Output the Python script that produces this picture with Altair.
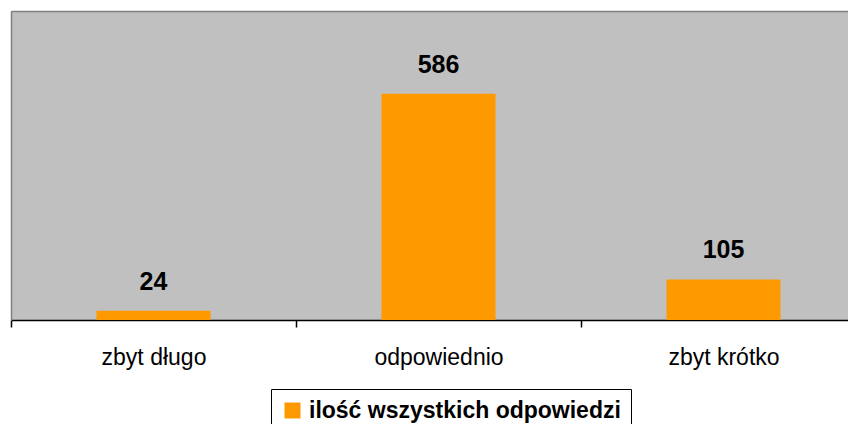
import altair as alt
import pandas as pd

categories = ["zbyt długo", "odpowiednio", "zbyt krótko"]
values = [24, 586, 105]
series_name = "ilość wszystkich odpowiedzi"
y_max = 800

df = pd.DataFrame({
    "kategoria": categories,
    "wartosc": values,
    "seria": [series_name] * len(categories),
})

x_enc = alt.X(
    "kategoria:N",
    sort=categories,
    scale=alt.Scale(range=[0, 855], paddingInner=0, paddingOuter=0),
    axis=alt.Axis(
        title=None, labelAngle=0, tickBand="extent",
        domainColor="black", domainWidth=1.5,
        tickColor="black", tickSize=7, tickWidth=1.5,
        labelFont="Liberation Sans", labelFontSize=23, labelColor="black",
        labelPadding=19,
    ),
)
y_enc = alt.Y(
    "wartosc:Q",
    scale=alt.Scale(domain=[0, y_max], nice=False),
    axis=alt.Axis(
        title=None, values=[y_max], labels=False, ticks=False,
        grid=True, gridColor="#808080", gridWidth=1.5,
        domainColor="#808080", domainWidth=1.5,
    ),
)

base = alt.Chart(df).encode(x=x_enc, y=y_enc)

bars = base.mark_bar(width={"band": 0.4}).encode(
    fill=alt.Fill(
        "seria:N",
        scale=alt.Scale(range=["#FF9900"]),
        legend=alt.Legend(
            title=None, orient="none", legendX=260, legendY=378,
            strokeColor="black", padding=10,
            symbolType="square", symbolSize=256, symbolStrokeWidth=0,
            labelFont="Liberation Sans", labelFontSize=23,
            labelFontWeight="bold", labelColor="black", labelOffset=5,
            labelLimit=500,
        ),
    )
)

labels = base.mark_text(
    font="Liberation Sans", fontSize=25, fontWeight="bold",
    color="black", baseline="alphabetic", dy=-21,
).encode(text="wartosc:Q")

chart = (
    alt.layer(bars, labels)
    .properties(
        width=837, height=309,
        autosize=alt.AutoSizeParams(type="none"),
        padding={"left": 3, "top": 3, "right": 0, "bottom": 104},
        background="white",
    )
    .configure_view(stroke=None, fill="#C0C0C0")
)

chart.save("out.html", embed_options={"renderer": "svg", "actions": False})
